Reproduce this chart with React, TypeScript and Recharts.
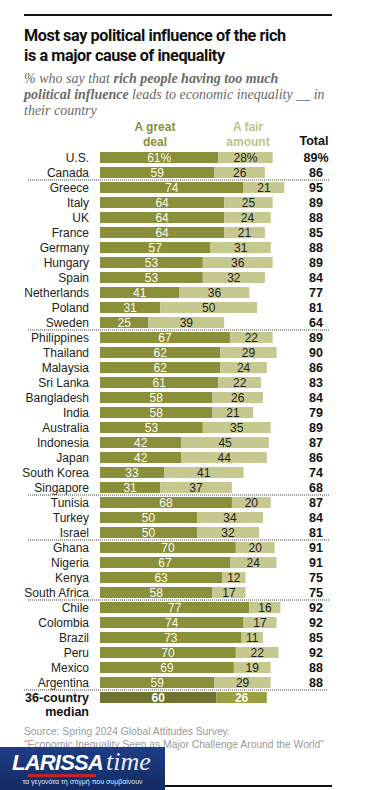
import React from 'react'
import { BarChart, Bar, XAxis, YAxis, Cell, LabelList } from 'recharts'

const countries = [
  'U.S.', 'Canada', 'Greece', 'Italy', 'UK', 'France', 'Germany', 'Hungary', 'Spain',
  'Netherlands', 'Poland', 'Sweden', 'Philippines', 'Thailand', 'Malaysia', 'Sri Lanka',
  'Bangladesh', 'India', 'Australia', 'Indonesia', 'Japan', 'South Korea', 'Singapore',
  'Tunisia', 'Turkey', 'Israel', 'Ghana', 'Nigeria', 'Kenya', 'South Africa', 'Chile',
  'Colombia', 'Brazil', 'Peru', 'Mexico', 'Argentina', '36-country median',
]
const greatDeal = [
  61, 59, 74, 64, 64, 64, 57, 53, 53, 41, 31, 25, 67, 62, 62, 61, 58, 58, 53, 42, 42, 33, 31,
  68, 50, 50, 70, 67, 63, 58, 77, 74, 73, 70, 69, 59, 60,
]
const fairAmount = [
  28, 26, 21, 25, 24, 21, 31, 36, 32, 36, 50, 39, 22, 29, 24, 22, 26, 21, 35, 45, 44, 41, 37,
  20, 34, 32, 20, 24, 12, 17, 16, 17, 11, 22, 19, 29, 26,
]
const totals = [
  89, 86, 95, 89, 88, 85, 88, 89, 84, 77, 81, 64, 89, 90, 86, 83, 84, 79, 89, 87, 86, 74, 68,
  87, 84, 81, 91, 91, 75, 75, 92, 92, 85, 92, 88, 88, null,
]
// first country of each regional block (a dotted rule is drawn above it)
const groupStarts = ['Greece', 'Philippines', 'Tunisia', 'Ghana', 'Chile', '36-country median']
const medianName = '36-country median'

const data = countries.map((name, i) => ({
  name,
  greatDeal: greatDeal[i],
  fairAmount: fairAmount[i],
  total: totals[i],
}))

const DARK = '#8a8f3a'
const LIGHT = '#c6c98f'
const MED_DARK = '#6f7330'
const MED_LIGHT = '#9a9f3f'
const FONT = '"Liberation Sans", Arial, sans-serif'
const ROW = 15

const CountryTick = (props: any) => {
  const { x, y, payload } = props
  const name = payload.value as string
  const isMedian = name === medianName
  const showRule = groupStarts.includes(name)
  return (
    <g>
      {showRule && (
        <line
          x1={isMedian ? 24 : 28}
          x2={isMedian ? 327 : 330}
          y1={y - ROW / 2}
          y2={y - ROW / 2}
          stroke="#444"
          strokeWidth={1}
          strokeDasharray="1 1"
        />
      )}
      {isMedian ? (
        <text textAnchor="end" fontFamily={FONT} fontSize={12.5} fontWeight="bold" fill="#111">
          <tspan x={x - 11} y={y + 4}>36-country</tspan>
          <tspan x={x - 11} y={y + 18}>median</tspan>
        </text>
      ) : (
        <text x={x - 11} y={y + 4} textAnchor="end" fontFamily={FONT} fontSize={12} fill="#222">
          {name}
        </text>
      )}
    </g>
  )
}

const TotalTick = (props: any) => {
  const { x, y, index } = props
  const t = totals[index]
  if (t == null) return null
  return (
    <text
      x={x + 22}
      y={y + 4.5}
      textAnchor="middle"
      fontFamily={FONT}
      fontSize={12.5}
      fontWeight="bold"
      fill="#111"
    >
      {t}
      {index === 0 ? '%' : ''}
    </text>
  )
}

const makeLabel = (light: boolean) => (props: any) => {
  const { x, y, width, height, value, index } = props
  const isMedian = countries[index] === medianName
  return (
    <text
      x={x + width / 2}
      y={y + height / 2 + 4.5}
      textAnchor="middle"
      fontFamily={FONT}
      fontSize={12}
      fontWeight={isMedian ? 'bold' : 'normal'}
      fill={isMedian || !light ? '#fbfbf2' : '#1e1e1e'}
    >
      {value}
      {index === 0 ? '%' : ''}
    </text>
  )
}

export default function App() {
  return (
    <div
      style={{
        position: 'absolute',
        left: 0,
        top: 0,
        width: 368,
        height: 790,
        background: '#fff',
        fontFamily: FONT,
        overflow: 'hidden',
      }}
    >
      <div style={{ position: 'absolute', left: 24, top: 14, width: 308, height: 1.5, background: '#111' }} />
      <div
        style={{
          position: 'absolute',
          left: 24,
          top: 26,
          width: 330,
          fontFamily: 'Roboto, "Liberation Sans", sans-serif',
          fontSize: 16.2,
          fontWeight: 'bold',
          lineHeight: '20px',
          color: '#111',
          letterSpacing: -0.4,
        }}
      >
        Most say political influence of the rich
        <br />
        is a major cause of inequality
      </div>
      <div
        style={{
          position: 'absolute',
          left: 24,
          top: 71,
          width: 330,
          fontFamily: '"Liberation Serif", serif',
          fontStyle: 'italic',
          fontSize: 14,
          lineHeight: '16px',
          color: '#6a6a6a',
        }}
      >
        % who say that <b>rich people having too much</b>
        <br />
        <b>political influence</b> leads to economic inequality __ in
        <br />
        their country
      </div>

      <div
        style={{
          position: 'absolute',
          left: 115,
          top: 120,
          width: 80,
          textAlign: 'center',
          fontSize: 12,
          fontWeight: 'bold',
          lineHeight: '15px',
          color: DARK,
        }}
      >
        A great
        <br />
        deal
      </div>
      <div
        style={{
          position: 'absolute',
          left: 208,
          top: 120,
          width: 80,
          textAlign: 'center',
          fontSize: 12,
          fontWeight: 'bold',
          lineHeight: '15px',
          color: '#bfc38a',
        }}
      >
        A fair
        <br />
        amount
      </div>
      <div
        style={{
          position: 'absolute',
          left: 294,
          top: 134,
          width: 40,
          textAlign: 'center',
          fontSize: 12.5,
          fontWeight: 'bold',
          color: '#111',
        }}
      >
        Total
      </div>

      <div style={{ position: 'absolute', left: 0, top: 150 }}>
        <BarChart
          width={368}
          height={ROW * countries.length + 18}
          data={data}
          layout="vertical"
          margin={{ top: 0, right: 0, bottom: 18, left: 0 }}
          barSize={11}
        >
          <XAxis type="number" domain={[0, 100]} hide />
          <YAxis
            yAxisId="left"
            type="category"
            dataKey="name"
            width={100}
            axisLine={false}
            tickLine={false}
            tickSize={0}
            tickMargin={0}
            interval={0}
            tick={<CountryTick />}
          />
          <YAxis
            yAxisId="right"
            orientation="right"
            type="category"
            dataKey="name"
            width={74}
            axisLine={false}
            tickLine={false}
            tickSize={0}
            tickMargin={0}
            interval={0}
            tick={<TotalTick />}
          />
          <Bar yAxisId="left" dataKey="greatDeal" stackId="a" isAnimationActive={false}>
            {data.map((d) => (
              <Cell key={d.name} fill={d.name === medianName ? MED_DARK : DARK} />
            ))}
            <LabelList dataKey="greatDeal" content={makeLabel(false)} />
          </Bar>
          <Bar yAxisId="left" dataKey="fairAmount" stackId="a" isAnimationActive={false}>
            {data.map((d) => (
              <Cell key={d.name} fill={d.name === medianName ? MED_LIGHT : LIGHT} />
            ))}
            <LabelList dataKey="fairAmount" content={makeLabel(true)} />
          </Bar>
        </BarChart>
      </div>

      <div
        style={{
          position: 'absolute',
          left: 24,
          top: 725,
          fontSize: 10.3,
          lineHeight: '13px',
          color: '#9a9a9a',
          whiteSpace: 'nowrap',
        }}
      >
        Source: Spring 2024 Global Attitudes Survey.
        <br />
        “Economic Inequality Seen as Major Challenge Around the World”
      </div>

      <div style={{ position: 'absolute', left: 165, top: 785, width: 167, height: 1.5, background: '#111' }} />

      <div
        style={{
          position: 'absolute',
          left: 0,
          top: 747,
          width: 165,
          height: 43,
          background: 'linear-gradient(180deg, #1f3d86 0%, #132a63 100%)',
        }}
      >
        <div
          style={{
            position: 'absolute',
            left: 12,
            top: 3,
            fontSize: 22,
            fontWeight: 'bold',
            fontStyle: 'italic',
            color: '#fff',
            letterSpacing: -0.8,
          }}
        >
          LARISSA
        </div>
        <div
          style={{
            position: 'absolute',
            left: 106,
            top: 0,
            fontSize: 26,
            fontStyle: 'italic',
            fontFamily: '"Liberation Serif", serif',
            color: '#e8eef8',
          }}
        >
          time
        </div>
        <div
          style={{
            position: 'absolute',
            left: 28,
            top: 27,
            width: 68,
            height: 3,
            background: '#c0262b',
          }}
        />
        <div
          style={{
            position: 'absolute',
            left: 0,
            top: 31,
            width: 165,
            textAlign: 'center',
            fontSize: 7,
            color: '#dfe6f3',
          }}
        >
          τα γεγονότα τη στιγμή που συμβαίνουν
        </div>
      </div>
    </div>
  )
}
